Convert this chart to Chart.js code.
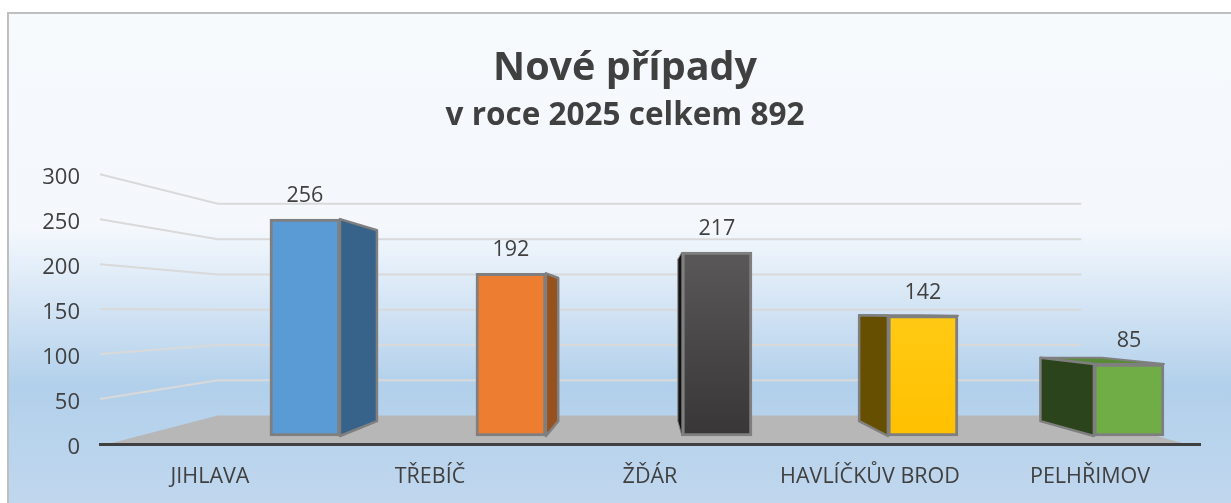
<!DOCTYPE html>
<html lang="cs">
<head>
<meta charset="utf-8">
<title>Nové případy</title>
<script src="https://cdn.jsdelivr.net/npm/chart.js@4"></script>
<style>
  html, body { margin: 0; padding: 0; background: #fff; }
  canvas { display: block; }
</style>
</head>
<body>
<canvas id="chart" width="1231" height="503"></canvas>
<script>
const categories = ['JIHLAVA', 'TŘEBÍČ', 'ŽĎÁR', 'HAVLÍČKŮV BROD', 'PELHŘIMOV'];
const values = [256, 192, 217, 142, 85];
const yTicks = [0, 50, 100, 150, 200, 250, 300];
const titleLine = 'Nové případy';
const subtitleLine = 'v roce 2025 celkem 892';

const frontColors = ['#5B9BD5', '#ED7D31', '#4A4849', '#FFC50C', '#70AD47'];
const sideColors = ['#37628A', '#97511E', '#111111', '#664F00', '#2C441C'];
const topColors = ['#4A7DAB', '#BE6427', '#3B3A3A', '#CC9E00', '#598A38'];

const FONT = '"Open Sans", "Noto Sans", sans-serif';
const TEXT = '#404040';

// perspective of the 3D box: everything runs to one vanishing point
const VANISH_X = 648;
const VANISH_Y = 312;
const BAR_DEPTH = 0.88;
const WALL_DEPTH = 0.785;

function toBack(x, y, k) {
  return [VANISH_X + (x - VANISH_X) * k, VANISH_Y + (y - VANISH_Y) * k];
}

function poly(ctx, pts, fill, stroke, lw) {
  ctx.beginPath();
  pts.forEach((p, i) => i ? ctx.lineTo(p[0], p[1]) : ctx.moveTo(p[0], p[1]));
  ctx.closePath();
  ctx.fillStyle = fill;
  ctx.fill();
  if (stroke) {
    ctx.strokeStyle = stroke;
    ctx.lineWidth = lw;
    ctx.lineJoin = 'round';
    ctx.stroke();
  }
}

const roomPlugin = {
  id: 'room',
  beforeDraw(chart) {
    const { ctx, chartArea: a, scales, width, height } = chart;
    ctx.save();
    // background runs off the right and bottom of the picture, only top + left edge show
    const grad = ctx.createLinearGradient(0, 13, 0, height);
    grad.addColorStop(0, '#F6FAFD');
    grad.addColorStop(0.44, '#F4F8FD');
    grad.addColorStop(0.76, '#B2D0EB');
    grad.addColorStop(1, '#C0D7EE');
    ctx.fillStyle = grad;
    ctx.fillRect(8, 13, width - 8, height - 13);
    ctx.strokeStyle = '#BFBFBF';
    ctx.lineWidth = 2;
    ctx.beginPath();
    ctx.moveTo(8, height);
    ctx.lineTo(8, 13);
    ctx.lineTo(width, 13);
    ctx.stroke();

    // wall lines, side wall then back wall
    ctx.strokeStyle = '#D9D9D9';
    ctx.lineWidth = 2;
    scales.y.ticks.forEach(t => {
      if (t.value === 0) return;
      const y = scales.y.getPixelForValue(t.value);
      const b = toBack(a.left, y, WALL_DEPTH);
      const e = toBack(a.right, y, WALL_DEPTH);
      ctx.beginPath();
      ctx.moveTo(a.left, y);
      ctx.lineTo(b[0], b[1]);
      ctx.lineTo(e[0], e[1]);
      ctx.stroke();
    });

    // floor
    const floorY = scales.y.getPixelForValue(0);
    poly(ctx, [
      [a.left + 8, floorY],
      toBack(a.left, floorY, WALL_DEPTH),
      toBack(a.right, floorY, WALL_DEPTH),
      [a.right - 14, floorY],
    ], '#B7B7B7');
    ctx.restore();
  },
  beforeDatasetsDraw(chart) {
    const { ctx } = chart;
    const bars = chart.getDatasetMeta(0).data;
    ctx.save();
    bars.forEach((bar, i) => {
      const p = bar.getProps(['x', 'y', 'base', 'width'], true);
      const l = p.x - p.width / 2;
      const r = p.x + p.width / 2;
      const t = p.y;
      const b = p.base;
      // top is only seen when it lies below the eye
      if (t > VANISH_Y) {
        poly(ctx, [[l, t], toBack(l, t, BAR_DEPTH), toBack(r, t, BAR_DEPTH), [r, t]],
          topColors[i], '#7F7F7F', 2);
      }
      // side that faces the vanishing point
      const sx = r < VANISH_X ? r : l;
      poly(ctx, [[sx, t], toBack(sx, t, BAR_DEPTH), toBack(sx, b, BAR_DEPTH), [sx, b]],
        sideColors[i], '#7F7F7F', i === 2 ? 1 : 2.5);
    });
    ctx.restore();
  },
  afterDatasetsDraw(chart) {
    const { ctx } = chart;
    ctx.save();
    ctx.fillStyle = TEXT;
    ctx.textAlign = 'center';
    ctx.textBaseline = 'middle';
    ctx.font = '21.5px ' + FONT;
    chart.getDatasetMeta(0).data.forEach((bar, i) => {
      ctx.fillText(String(values[i]), bar.x, bar.y - 23);
    });
    ctx.restore();
  },
};

function barFill(context) {
  const i = context.dataIndex;
  const { chart } = context;
  const area = chart.chartArea;
  if (!area || (i !== 2 && i !== 3)) return frontColors[i];
  const y = chart.scales.yBar;
  const g = chart.ctx.createLinearGradient(0, y.getPixelForValue(values[i]), 0, y.getPixelForValue(0));
  if (i === 2) {
    g.addColorStop(0, '#5A5859');
    g.addColorStop(1, '#393637');
  } else {
    g.addColorStop(0, '#FFCA14');
    g.addColorStop(1, '#FFC000');
  }
  return g;
}

new Chart(document.getElementById('chart'), {
  type: 'bar',
  data: {
    labels: categories,
    datasets: [{
      data: values.map((v, i) => ({ x: i, y: v })),
      xAxisID: 'xBar',
      yAxisID: 'yBar',
      backgroundColor: barFill,
      borderColor: '#7F7F7F',
      borderWidth: 3,
      borderSkipped: false,
      barThickness: 70,
    }],
  },
  options: {
    responsive: false,
    animation: false,
    // left padding only, so the title centres where the reference has it
    layout: { padding: { left: 19, right: 0, top: 45, bottom: 0 } },
    plugins: {
      legend: { display: false },
      tooltip: { enabled: false },
      title: {
        display: true,
        text: titleLine,
        color: TEXT,
        font: { family: FONT, size: 39.5, weight: 'bold', lineHeight: 1.2 },
        padding: { top: 0, bottom: 5 },
      },
      subtitle: {
        display: true,
        text: subtitleLine,
        color: TEXT,
        font: { family: FONT, size: 31.5, weight: 'bold', lineHeight: 1.2 },
        padding: { top: 0, bottom: 39 },
      },
    },
    scales: {
      // the axes that are read
      x: {
        type: 'category',
        offset: true,
        grid: { display: false, drawTicks: false },
        border: { color: '#404040', width: 3 },
        ticks: {
          color: TEXT,
          font: { family: FONT, size: 21.5 },
          maxRotation: 0,
          autoSkip: false,
          padding: 20,
        },
        afterFit(s) { s.height = 59; },
      },
      y: {
        type: 'linear',
        min: 0,
        max: 300,
        afterBuildTicks(s) { s.ticks = yTicks.map(v => ({ value: v })); },
        grid: { display: false, drawTicks: false },
        border: { display: false },
        ticks: { color: TEXT, font: { family: FONT, size: 22 }, padding: 20, labelOffset: 3.5 },
        afterFit(s) { s.width = 81; },
      },
      // the bars stand on a nearer plane than the axes, so they have their own scales, nothing drawn
      xBar: { type: 'linear', display: false, offset: false, min: -0.995, max: 4.345 },
      yBar: {
        type: 'linear',
        position: 'right',
        min: -9.43,
        max: 309,
        grid: { display: false, drawTicks: false },
        border: { display: false },
        ticks: { display: false },
        afterFit(s) { s.width = 31; },
      },
    },
  },
  plugins: [roomPlugin],
});
</script>
</body>
</html>
